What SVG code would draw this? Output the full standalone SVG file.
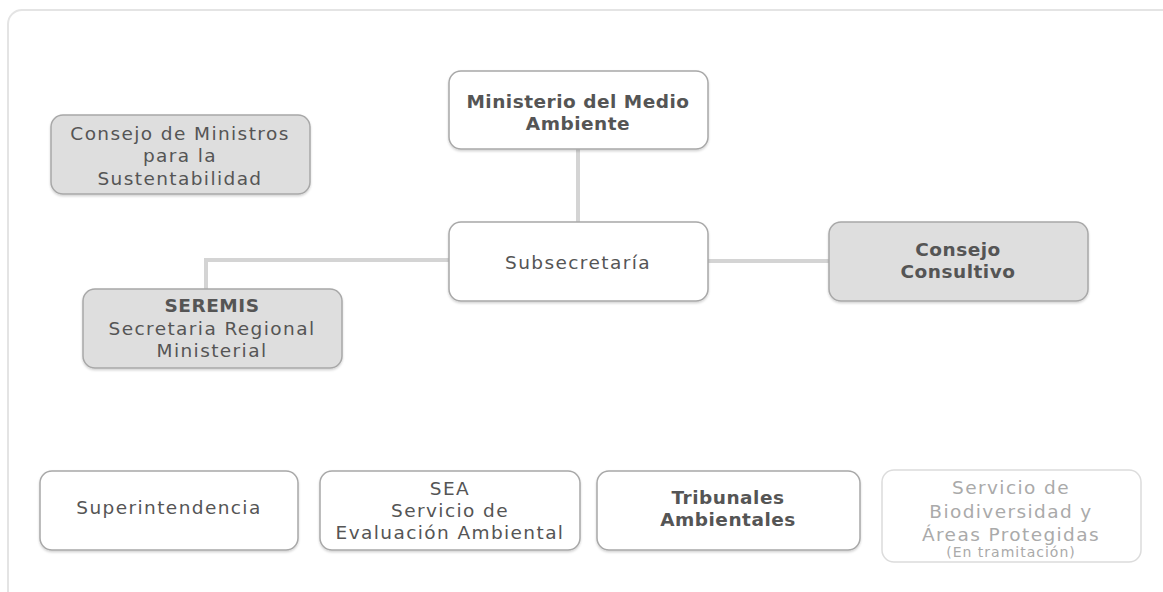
<svg xmlns="http://www.w3.org/2000/svg" width="1163" height="592" viewBox="0 0 1163 592">
<defs>
<filter id="sh" x="-5%" y="-5%" width="110%" height="115%">
<feDropShadow dx="0" dy="1.5" stdDeviation="1.2" flood-color="#000" flood-opacity="0.18"/>
</filter>
</defs>
<style>
.box{fill:#ffffff;stroke:#a8a8a8;stroke-width:1.5;filter:url(#sh)}
.gray{fill:#dedede}
.light{fill:#ffffff;stroke:#dcdcdc;stroke-width:1.5}
text{font-family:"DejaVu Sans","Noto Sans",sans-serif;font-size:18.5px;fill:#555;text-anchor:middle;letter-spacing:1.4px}
.b{font-weight:bold;letter-spacing:0.5px}
.lt{fill:#aaa}
.sm{font-size:14px;letter-spacing:1px}
.conn{stroke:#d4d4d4;stroke-width:4;fill:none}
</style>
<rect x="8" y="10" width="1170" height="600" rx="14" fill="#fff" stroke="#e4e4e4" stroke-width="2"/>
<g id="connectors">
<line class="conn" x1="578" y1="149" x2="578" y2="222"/>
<polyline class="conn" points="449,260 206,260 206,289"/>
<line class="conn" x1="708" y1="261" x2="829" y2="261"/>
</g>
<g id="ministerio">
<rect class="box" x="449" y="71" width="259" height="78" rx="12"/>
<text class="b" x="578" y="108">Ministerio del Medio</text>
<text class="b" x="578" y="130">Ambiente</text>
</g>
<g id="consejo-ministros">
<rect class="box gray" x="51" y="115" width="259" height="79" rx="12"/>
<text x="180" y="140">Consejo de Ministros</text>
<text x="180" y="162">para la</text>
<text x="180" y="185">Sustentabilidad</text>
</g>
<g id="subsecretaria">
<rect class="box" x="449" y="222" width="259" height="79" rx="12"/>
<text x="578" y="269">Subsecretaría</text>
</g>
<g id="consejo-consultivo">
<rect class="box gray" x="829" y="222" width="259" height="79" rx="12"/>
<text class="b" x="958" y="256">Consejo</text>
<text class="b" x="958" y="278">Consultivo</text>
</g>
<g id="seremis">
<rect class="box gray" x="83" y="289" width="259" height="79" rx="12"/>
<text class="b" x="212" y="312">SEREMIS</text>
<text x="212" y="335">Secretaria Regional</text>
<text x="212" y="357">Ministerial</text>
</g>
<g id="superintendencia">
<rect class="box" x="40" y="471" width="258" height="79" rx="12"/>
<text x="169" y="514">Superintendencia</text>
</g>
<g id="sea">
<rect class="box" x="320" y="471" width="260" height="79" rx="12"/>
<text x="450" y="495">SEA</text>
<text x="450" y="517">Servicio de</text>
<text x="450" y="539">Evaluación Ambiental</text>
</g>
<g id="tribunales">
<rect class="box" x="597" y="471" width="263" height="79" rx="12"/>
<text class="b" x="728" y="504">Tribunales</text>
<text class="b" x="728" y="526">Ambientales</text>
</g>
<g id="biodiversidad">
<rect class="light" x="882" y="470" width="259" height="92" rx="12"/>
<text class="lt" x="1011" y="494">Servicio de</text>
<text class="lt" x="1011" y="518">Biodiversidad y</text>
<text class="lt" x="1011" y="541">Áreas Protegidas</text>
<text class="lt sm" x="1011" y="557">(En tramitación)</text>
</g>
</svg>
